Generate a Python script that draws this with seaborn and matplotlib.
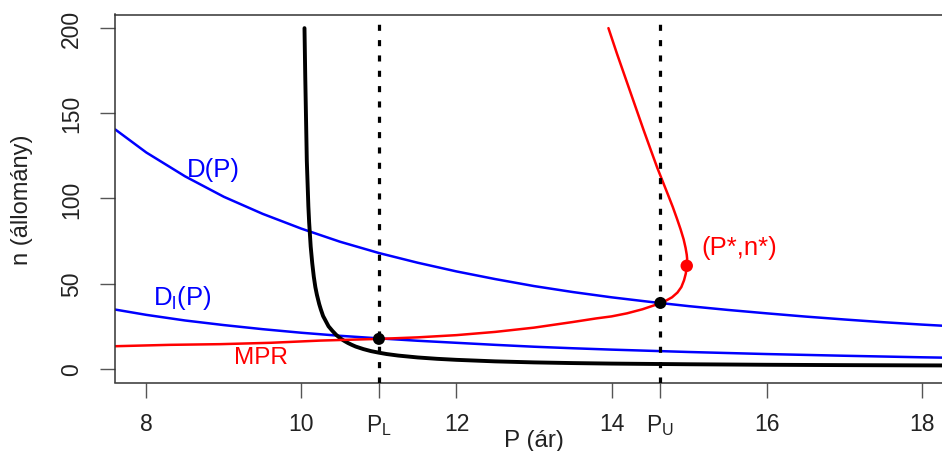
import seaborn as sns
import matplotlib.pyplot as plt

sns.set_theme(style="ticks")
plt.rcParams["font.family"] = ["Liberation Sans", "DejaVu Sans"]
plt.rcParams["mathtext.fontset"] = "custom"
plt.rcParams["mathtext.rm"] = "Liberation Sans"

# kereslet D(P) es D_l(P), leolvasva a kepről
p_dem = [7.6, 8, 8.5, 9, 9.5, 10, 10.5, 11, 11.5, 12, 12.5, 13, 13.5, 14, 14.5,
         15, 15.5, 16, 16.5, 17, 17.5, 18, 18.4]
n_dem = [140.5, 127, 113, 101, 91, 82.3, 74.6, 68, 62.3, 57.2, 52.7, 48.6, 45.1, 42, 39.3,
         36.8, 34.6, 32.6, 30.7, 29, 27.4, 26, 25]
n_dem_l = [34.8, 31.7, 28.4, 25.7, 23.3, 21.2, 19.4, 17.9, 16.5, 15.3, 14.1, 13.0, 12.1, 11.3, 10.6,
           9.9, 9.3, 8.7, 8.2, 7.7, 7.25, 6.8, 6.5]

# fekete gorbe
p_cost = [10.04, 10.05, 10.07, 10.09, 10.1, 10.12, 10.14, 10.16, 10.18, 10.2, 10.23, 10.25,
          10.28, 10.3, 10.35, 10.4, 10.45, 10.5, 10.55, 10.6, 10.65, 10.7, 10.8, 10.9, 11.0,
          11.1, 11.25, 11.5, 11.75, 12, 12.5, 13, 13.5, 14, 15, 16, 17, 18, 18.4]
n_cost = [200, 171, 122, 95.4, 86, 71.8, 62, 54.1, 48, 43.5, 38, 35, 31, 29.3, 25, 22.3,
          19.9, 18, 16.5, 15.2, 14.1, 13.1, 11.6, 10.4, 9.5, 8.7, 7.8, 6.7, 5.9, 5.3, 4.4,
          3.8, 3.4, 3.1, 2.7, 2.4, 2.2, 2.05, 2.0]

# MPR gorbe (n szerint rendezve)
p_mpr = [7.6, 8.3, 8.95, 9.6, 10.24, 11.0, 11.5, 12.0, 12.5, 13.0, 13.5, 13.8, 14.0, 14.2,
         14.4, 14.55, 14.63, 14.7, 14.78, 14.85, 14.9, 14.935, 14.958, 14.97, 14.975,
         14.97, 14.955, 14.93, 14.89, 14.845, 14.79, 14.73, 14.66, 14.59, 14.51, 14.415,
         14.3, 14.185, 14.07, 13.96]
n_mpr = [13.3, 14.1, 14.5, 15.3, 16.6, 17.6, 18.5, 19.8, 21.7, 24.2, 27.5, 29.6, 30.8, 32.6,
         35.0, 37.3, 38.7, 40.0, 42.0, 44.8, 48.0, 52, 56, 60.5, 64.6,
         67, 71, 76, 82, 88, 95, 102, 110, 118, 128, 140,
         155, 170, 185, 200]

# kiemelt pontok
p_lu = [11.0, 14.63]
n_lu = [17.6, 38.7]
p_star = [14.97]
n_star = [60.5]

xticks = [8, 10, 12, 14, 16, 18] + p_lu
xtick_labels = ["8", "10", "12", "14", "16", "18",
                r"$\mathregular{P_L}$", r"$\mathregular{P_U}$"]
yticks = [0, 50, 100, 150, 200]

fig = plt.figure(figsize=(9.42, 4.52), dpi=100)
ax = fig.add_axes([115.3 / 942, 1 - 383.5 / 452, 837.4 / 942, 368 / 452])

sns.lineplot(x=p_dem, y=n_dem, color="#0000ff", lw=1.8, estimator=None, sort=False, ax=ax)
sns.lineplot(x=p_dem, y=n_dem_l, color="#0000ff", lw=1.8, estimator=None, sort=False, ax=ax)
sns.lineplot(x=p_cost, y=n_cost, color="black", lw=2.8, estimator=None, sort=False, ax=ax)
sns.lineplot(x=p_mpr, y=n_mpr, color="#ff0000", lw=1.8, estimator=None, sort=False, ax=ax)

for p in p_lu:
    ax.axvline(p, color="black", lw=2.3, ls=(0, (1.9, 2.9)), zorder=3)

sns.scatterplot(x=p_lu, y=n_lu, color="black", s=75, edgecolor="none", zorder=5, ax=ax)
sns.scatterplot(x=p_star, y=n_star, color="#ff0000", s=80, edgecolor="none", zorder=5, ax=ax)

ax.text(8.87, 117.4, "D(P)", color="#0000ff", fontsize=18.5, ha="center", va="center")
ax.text(8.46, 42.1, r"D$\mathregular{_l}$(P)", color="#0000ff", fontsize=18.5, ha="center", va="center")
ax.text(9.48, 6.9, "MPR", color="#ff0000", fontsize=17.5, ha="center", va="center")
ax.text(15.16, 71.4, "(P*,n*)", color="#ff0000", fontsize=18.5, ha="left", va="center")

ax.set_xlim(7.6, 18.4)
ax.set_ylim(-8, 208)
ax.set_xticks(xticks)
ax.set_xticklabels(xtick_labels)
ax.set_yticks(yticks)
ax.set_yticklabels([str(v) for v in yticks])
plt.setp(ax.get_yticklabels(), rotation=90, va="center")

ax.tick_params(axis="both", direction="out", length=10.5, width=1.0, color="#555555",
               labelsize=16.5, labelcolor="#222222")
ax.tick_params(axis="x", pad=10.5)
ax.tick_params(axis="y", pad=12.5)
for s in ax.spines.values():
    s.set_color("#333333")
    s.set_linewidth(1.1)

ax.set_xlabel("P (ár)", fontsize=17.5, color="#222222")
ax.set_ylabel("n (állomány)", fontsize=17, color="#222222")
ax.xaxis.set_label_coords(0.5, -0.127)
ax.yaxis.set_label_coords(-0.098, 0.5)

fig.savefig("out.png", dpi=100)
